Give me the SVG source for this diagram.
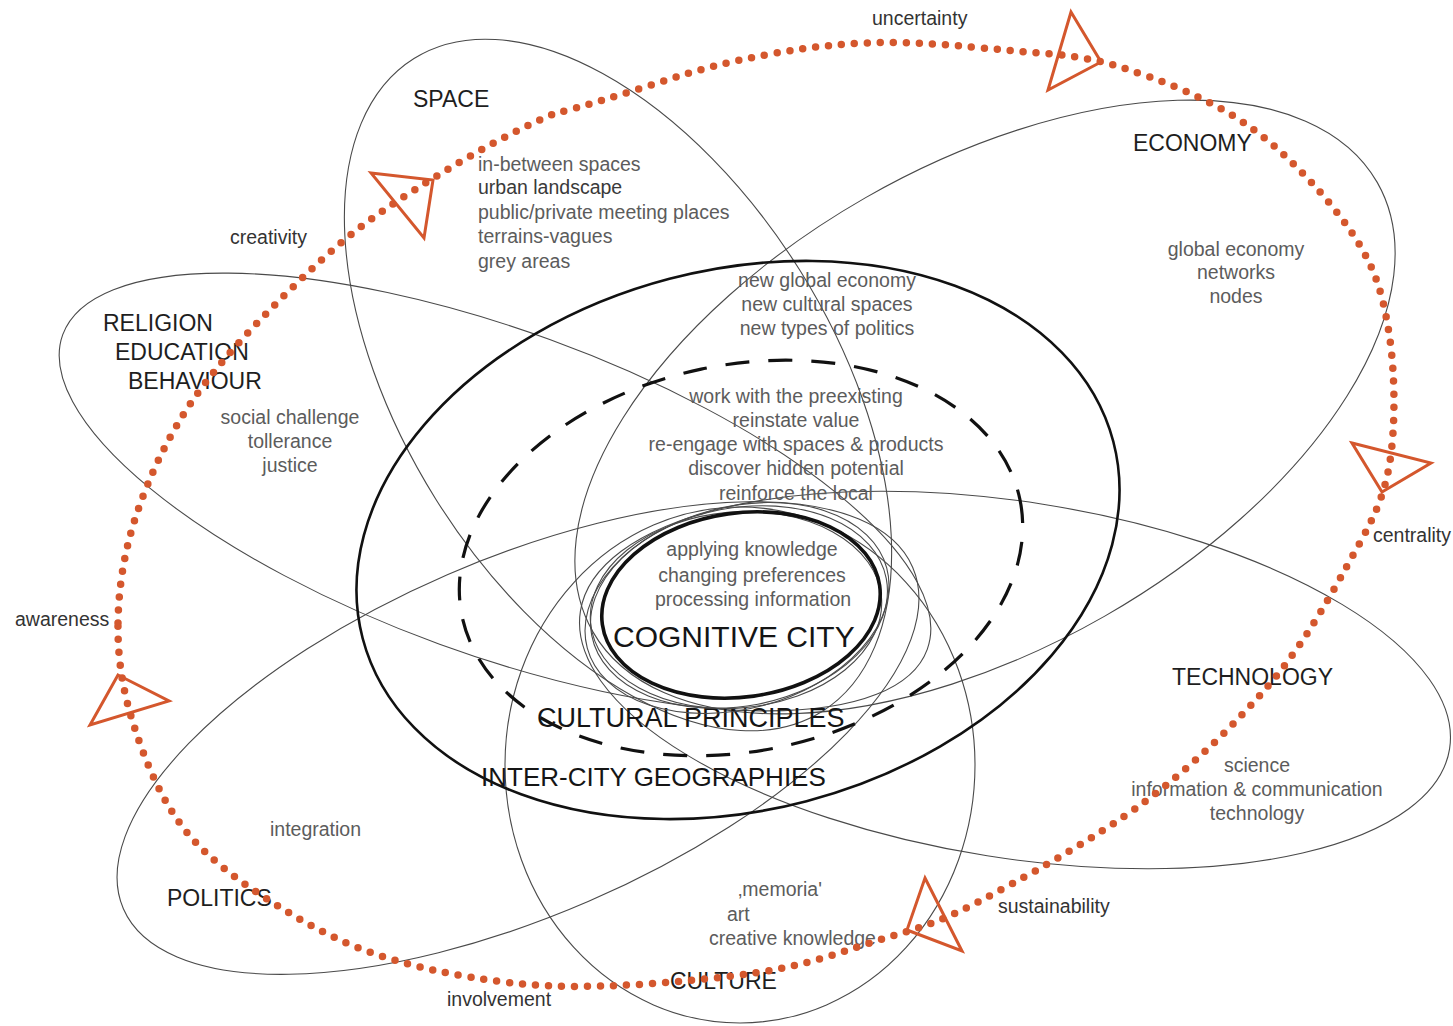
<svg xmlns="http://www.w3.org/2000/svg" width="1453" height="1026" viewBox="0 0 1453 1026">
<style>
text{font-family:"Liberation Sans",Arial,sans-serif}
.lbl{font-size:23px;fill:#1e1e1e}
.big{font-size:27px;fill:#151515}
.sm{font-size:19.5px;fill:#5c5c5c}
.dk{fill:#333}
.mid{text-anchor:middle}
.thin{fill:none;stroke:#4a4a4a;stroke-width:1.1}
.loop{fill:none;stroke:#d4572d;stroke-width:7.5;stroke-linecap:round;stroke-dasharray:0 13}
.arr{fill:none;stroke:#d4572d;stroke-width:3;stroke-linejoin:miter}
</style>
<rect width="1453" height="1026" fill="#fff"/>
<g id="space">
<ellipse class="thin" cx="618" cy="385" rx="385" ry="215" transform="rotate(58 618 385)"/>
<text class="lbl" x="413" y="107">SPACE</text>
<text class="sm" x="478" y="171">in-between spaces</text>
<text class="sm" x="478" y="194" style="fill:#3a3a3a">urban landscape</text>
<text class="sm" x="478" y="219">public/private meeting places</text>
<text class="sm" x="478" y="243">terrains-vagues</text>
<text class="sm" x="478" y="268">grey areas</text>
</g>
<g id="economy">
<ellipse class="thin" cx="985" cy="407" rx="452" ry="241" transform="rotate(-29.8 985 407)"/>
<text class="lbl" x="1133" y="151">ECONOMY</text>
<text class="sm mid" x="1236" y="256">global economy</text>
<text class="sm mid" x="1236" y="279">networks</text>
<text class="sm mid" x="1236" y="303">nodes</text>
</g>
<g id="religion">
<ellipse class="thin" cx="495" cy="492" rx="460" ry="162" transform="rotate(20 495 492)"/>
<text class="lbl" x="103" y="331">RELIGION</text>
<text class="lbl" x="115" y="360">EDUCATION</text>
<text class="lbl" x="128" y="389">BEHAVIOUR</text>
<text class="sm mid" x="290" y="424">social challenge</text>
<text class="sm mid" x="290" y="448">tollerance</text>
<text class="sm mid" x="290" y="472">justice</text>
</g>
<g id="technology">
<ellipse class="thin" cx="1015" cy="680" rx="440" ry="178" transform="rotate(9 1015 680)"/>
<text class="lbl" x="1172" y="685">TECHNOLOGY</text>
<text class="sm mid" x="1257" y="772">science</text>
<text class="sm mid" x="1257" y="796">information &amp; communication</text>
<text class="sm mid" x="1257" y="820">technology</text>
</g>
<g id="politics">
<ellipse class="thin" cx="518" cy="738" rx="430" ry="178" transform="rotate(-23.4 518 738)"/>
<text class="lbl" x="167" y="906">POLITICS</text>
<text class="sm" x="270" y="836">integration</text>
</g>
<g id="culture">
<ellipse class="thin" cx="740" cy="765" rx="235" ry="258"/>
<text class="lbl" x="670" y="989">CULTURE</text>
<text class="sm" x="738" y="896">‚memoria'</text>
<text class="sm" x="727" y="921">art</text>
<text class="sm" x="709" y="945">creative knowledge</text>
</g>
<g id="inter-city">
<ellipse cx="738" cy="540" rx="388" ry="270" transform="rotate(-14.7 738 540)" fill="none" stroke="#111" stroke-width="2.6"/>
<text class="big" x="481" y="786" style="font-size:26px">INTER-CITY GEOGRAPHIES</text>
<text class="sm mid" x="827" y="287">new global economy</text>
<text class="sm mid" x="827" y="311">new cultural spaces</text>
<text class="sm mid" x="827" y="335">new types of politics</text>
</g>
<g id="cultural-principles">
<ellipse cx="741" cy="558" rx="285" ry="193" transform="rotate(-11.9 741 558)" fill="none" stroke="#111" stroke-width="3.2" stroke-dasharray="24 19"/>
<text class="big" x="537" y="727">CULTURAL PRINCIPLES</text>
<text class="sm mid" x="796" y="403">work with the preexisting</text>
<text class="sm mid" x="796" y="427">reinstate value</text>
<text class="sm mid" x="796" y="451">re-engage with spaces &amp; products</text>
<text class="sm mid" x="796" y="475">discover hidden potential</text>
<text class="sm mid" x="796" y="500">reinforce the local</text>
</g>
<g id="cognitive-city">
<ellipse class="thin" cx="739" cy="607" rx="150" ry="99" transform="rotate(-11 739 607)"/>
<ellipse class="thin" cx="737" cy="608" rx="155" ry="101" transform="rotate(-15 737 608)"/>
<ellipse class="thin" cx="736" cy="610" rx="146" ry="98" transform="rotate(-5 736 610)"/>
<ellipse cx="741" cy="605" rx="140" ry="92" transform="rotate(-8 741 605)" fill="none" stroke="#111" stroke-width="3.6"/>
<text class="sm mid" x="752" y="556">applying knowledge</text>
<text class="sm mid" x="752" y="582">changing preferences</text>
<text class="sm mid" x="753" y="606">processing information</text>
<text class="big" x="613" y="647" style="font-size:30px">COGNITIVE CITY</text>
</g>
<g id="connectors">
<path class="loop" d="M118,623 C118.5,587.5 124.2,550.7 137,513 C149.8,475.3 168.3,435.3 195,397 C221.7,358.7 263,315.8 297,283 C331,250.2 355.8,228.3 399,200 C442.2,171.7 501.3,135.8 556,113 C607.5,101.3 675.5,74.7 727,63 C778.5,51.3 818.8,45.2 865,43 C911.2,40.8 961.5,46 1004,50 C1046.5,54 1079,54.2 1120,67 C1161,79.8 1211.3,99.3 1250,127 C1288.7,154.7 1328.8,198.7 1352,233 C1375.2,267.3 1382.8,294 1389,333 C1395.2,372 1396,428.2 1389,467 C1382,505.8 1367.2,529.5 1347,566 C1326.8,602.5 1302,646.5 1268,686 C1234,725.5 1191.7,766.8 1143,803 C1094.3,839.2 1020,880.2 976,903 C932,925.8 916,928.3 879,940 C842,951.7 807.8,965.3 754,973 C700.2,980.7 616,988.2 556,986 C496,983.8 440.3,973.3 394,960 C347.7,946.7 312.8,927.7 278,906 C243.2,884.3 209,860 185,830 C161,800 145.2,760.5 134,726 C122.8,691.5 117.5,658.5 118,623 Z"/>
<polygon class="arr" points="371,173 433,180 424,238"/>
<polygon class="arr" points="1071,12 1101,62 1048,90"/>
<polygon class="arr" points="1352,443 1431,463 1382,492"/>
<polygon class="arr" points="925,878 962,951 907,930"/>
<polygon class="arr" points="118,675 169,701 90,725"/>
<text class="sm dk" x="872" y="25">uncertainty</text>
<text class="sm dk" x="230" y="244">creativity</text>
<text class="sm dk" x="1373" y="542">centrality</text>
<text class="sm dk" x="15" y="626">awareness</text>
<text class="sm dk" x="998" y="913">sustainability</text>
<text class="sm dk" x="447" y="1006">involvement</text>
</g>
</svg>
